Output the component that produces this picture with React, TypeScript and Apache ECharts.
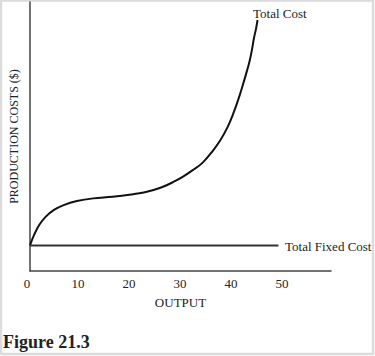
import React, { useEffect, useRef } from "react";
import * as echarts from "echarts";

const xTicks = [0, 10, 20, 30, 40, 50];
const totalCostX = [0, 0.8, 1.8, 3.1, 4.7, 6.6, 9.2, 12.4, 16.2, 20.4, 22.3, 24.2, 26.2, 28.1, 30.0, 31.9, 33.8, 35.8, 37.3, 38.7, 39.8, 40.8, 41.6, 42.3, 43.0, 43.5, 43.9, 44.3, 44.6];
const totalCostY = [9.5, 13.4, 17.1, 20.2, 22.7, 24.5, 26.0, 27.0, 27.6, 28.6, 29.2, 30.1, 31.4, 33.1, 35.1, 37.5, 40.2, 44.6, 48.6, 53.4, 58.3, 63.6, 68.4, 72.9, 77.7, 82.2, 86.6, 90.0, 93.3];
const fixedCostX = [0, 48.7];
const fixedCostY = [9.5, 9.5];
const seriesNames = ["Total Cost", "Total Fixed Cost"];

const serif = "'Liberation Serif', 'Times New Roman', serif";

export default function App() {
  const ref = useRef<HTMLDivElement>(null);
  useEffect(() => {
    document.body.style.margin = "0";
    const chart = echarts.init(ref.current!, undefined, { renderer: "svg" });
    chart.setOption({
      animation: false,
      backgroundColor: "#ffffff",
      grid: { left: 24, right: 44, top: 2, bottom: 85 },
      xAxis: {
        type: "value",
        min: 0,
        max: 59,
        interval: 10,
        name: "OUTPUT",
        nameLocation: "middle",
        nameGap: 25,
        nameTextStyle: { fontFamily: serif, fontSize: 13, color: "#222" },
        axisLine: { show: true, lineStyle: { color: "#444", width: 1.5 } },
        axisTick: { show: false },
        splitLine: { show: false },
        axisLabel: {
          fontFamily: serif,
          fontSize: 13,
          color: "#222",
          margin: 6,
          padding: [0, 6, 0, 0],
          formatter: (v: number) => (xTicks.includes(v) ? String(v) : ""),
          showMaxLabel: false,
        },
      },
      yAxis: {
        type: "value",
        min: 0,
        max: 100,
        name: "PRODUCTION COSTS ($)",
        nameLocation: "middle",
        nameRotate: 90,
        nameGap: 10,
        nameTextStyle: { fontFamily: serif, fontSize: 12, color: "#222" },
        axisLine: { show: true, lineStyle: { color: "#444", width: 1.5 } },
        axisTick: { show: false },
        axisLabel: { show: false },
        splitLine: { show: false },
      },
      series: [
        {
          name: seriesNames[0],
          type: "line",
          data: totalCostX.map((x, i) => [x, totalCostY[i]]),
          smooth: 0.4,
          showSymbol: false,
          lineStyle: { color: "#111", width: 2 },
        },
        {
          name: seriesNames[1],
          type: "line",
          data: fixedCostX.map((x, i) => [x, fixedCostY[i]]),
          showSymbol: false,
          lineStyle: { color: "#333", width: 2 },
        },
      ],
      graphic: [
        {
          type: "rect",
          shape: { x: 1, y: 0.5, width: 372, height: 353.5 },
          style: { fill: "none", stroke: "#dcdcdc", lineWidth: 2.5 },
          silent: true,
        },
        {
          type: "text",
          x: 253,
          y: 13,
          style: { text: seriesNames[0], font: `13px ${serif}`, fill: "#222", verticalAlign: "middle" },
        },
        {
          type: "text",
          x: 285,
          y: 246,
          style: { text: seriesNames[1], font: `13px ${serif}`, fill: "#222", verticalAlign: "middle" },
        },
        {
          type: "text",
          x: 3,
          y: 342,
          style: { text: "Figure 21.3", font: `bold 18px ${serif}`, fill: "#222", verticalAlign: "middle" },
        },
      ],
    });
    return () => chart.dispose();
  }, []);
  return <div ref={ref} style={{ width: 375, height: 356 }} />;
}
